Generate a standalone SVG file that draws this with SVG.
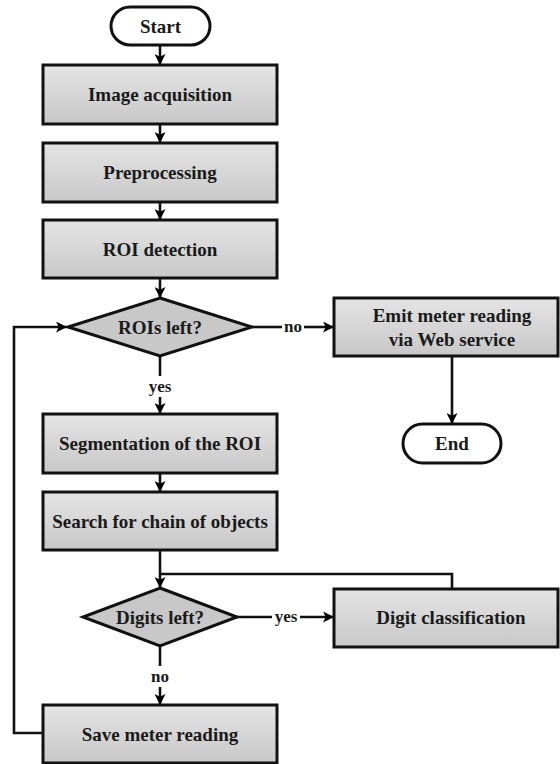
<svg xmlns="http://www.w3.org/2000/svg" width="560" height="764" viewBox="0 0 560 764">
<defs>
<linearGradient id="g" x1="0" y1="0" x2="0" y2="1">
<stop offset="0" stop-color="#e4e4e4"/>
<stop offset="1" stop-color="#c8c8c8"/>
</linearGradient>
<marker id="ah" viewBox="0 0 10 10" refX="10" refY="5" markerWidth="11" markerHeight="11" markerUnits="userSpaceOnUse" orient="auto">
<path d="M0,0 L10,5 L0,10 L2.5,5 Z" fill="#000"/>
</marker>
</defs>
<style>
.box{fill:url(#g);stroke:#111;stroke-width:3}
.term{fill:#fff;stroke:#111;stroke-width:3}
.dia{fill:#c8c8c8;stroke:#111;stroke-width:3}
text{font-family:"Liberation Serif","Times New Roman",serif;font-weight:bold;font-size:19px;fill:#1a1a1a;text-anchor:middle;dominant-baseline:central}
.c{fill:none;stroke:#111;stroke-width:2.6}
.a{marker-end:url(#ah)}
.lbl{font-size:17px}
</style>
<rect width="560" height="764" fill="#fff"/>
<g id="connectors">
<line class="c a" x1="160" y1="45" x2="160" y2="65"/>
<line class="c a" x1="160" y1="124" x2="160" y2="143"/>
<line class="c a" x1="160" y1="202" x2="160" y2="220"/>
<line class="c a" x1="160" y1="278" x2="160" y2="298"/>
<line class="c" x1="252" y1="327" x2="282" y2="327"/>
<line class="c a" x1="304" y1="327" x2="334" y2="327"/>
<text class="lbl" x="293" y="326">no</text>
<line class="c a" x1="452" y1="356" x2="452" y2="424"/>
<line class="c" x1="160" y1="356" x2="160" y2="376"/>
<text class="lbl" x="160" y="386">yes</text>
<line class="c a" x1="160" y1="397" x2="160" y2="414"/>
<line class="c a" x1="160" y1="473" x2="160" y2="492"/>
<line class="c a" x1="160" y1="550" x2="160" y2="588"/>
<polyline class="c" points="160,574 452,574 452,589"/>
<line class="c" x1="237" y1="617" x2="272" y2="617"/>
<line class="c a" x1="300" y1="617" x2="334" y2="617"/>
<text class="lbl" x="286" y="616">yes</text>
<line class="c" x1="160" y1="646" x2="160" y2="666"/>
<text class="lbl" x="160" y="676">no</text>
<line class="c a" x1="160" y1="687" x2="160" y2="705"/>
<polyline class="c a" points="43,733 14,733 14,327 67,327"/>
</g>
<g id="start"><rect class="term" x="111" y="7" width="99" height="38" rx="19"/><text x="160.5" y="26">Start</text></g>
<g id="image-acquisition"><rect class="box" x="43" y="65" width="234" height="59"/><text x="160" y="94">Image acquisition</text></g>
<g id="preprocessing"><rect class="box" x="43" y="143" width="234" height="59"/><text x="160" y="172">Preprocessing</text></g>
<g id="roi-detection"><rect class="box" x="43" y="220" width="234" height="58"/><text x="160" y="249">ROI detection</text></g>
<g id="rois-left"><polygon class="dia" points="160,298 252,327 160,356 68,327"/><text x="160" y="327">ROIs left?</text></g>
<g id="emit"><rect class="box" x="334" y="298" width="224" height="58"/><text x="452" y="315">Emit meter reading</text><text x="452" y="339">via Web service</text></g>
<g id="end"><rect class="term" x="403" y="424" width="98" height="39" rx="19.5"/><text x="452" y="443">End</text></g>
<g id="segmentation"><rect class="box" x="43" y="414" width="234" height="59"/><text x="160" y="443">Segmentation of the ROI</text></g>
<g id="search"><rect class="box" x="43" y="492" width="234" height="58"/><text x="160" y="521">Search for chain of objects</text></g>
<g id="digits-left"><polygon class="dia" points="160,588 237,617 160,646 83,617"/><text x="160" y="617">Digits left?</text></g>
<g id="digit-classification"><rect class="box" x="334" y="589" width="224" height="58"/><text x="451" y="617">Digit classification</text></g>
<g id="save"><rect class="box" x="43" y="705" width="234" height="58"/><text x="160" y="734">Save meter reading</text></g>
</svg>
